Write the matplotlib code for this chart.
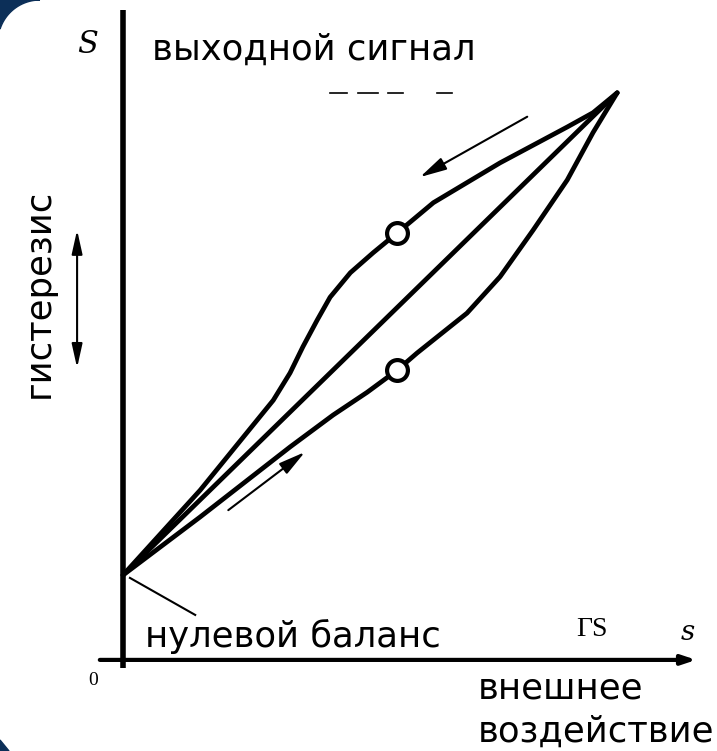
import numpy as np
import matplotlib.pyplot as plt
from matplotlib.patches import Polygon

# данные кривых (x - внешнее воздействие, y - выходной сигнал), нормированы на rS
zero_balance = 0.153

upper_x = [0.0, 0.156, 0.304, 0.338, 0.364, 0.393, 0.419, 0.460,
           0.506, 0.555, 0.628, 0.763, 0.899, 0.951, 1.0]
upper_y = [zero_balance, 0.302, 0.460, 0.508, 0.554, 0.601, 0.641, 0.684,
           0.719, 0.754, 0.807, 0.877, 0.940, 0.965, 1.0]

lower_x = [0.0, 0.156, 0.338, 0.425, 0.494, 0.555, 0.595, 0.696, 0.763, 0.830,
           0.899, 0.951, 1.0]
lower_y = [zero_balance, 0.255, 0.378, 0.434, 0.474, 0.513, 0.543, 0.613, 0.677, 0.759,
           0.847, 0.930, 1.0]

middle_x = [0.0, 1.0]
middle_y = [zero_balance, 1.0]

# точки-кружки на кривых
marker_x = [0.555, 0.555]
marker_y = [0.754, 0.513]

# штрихи вверху (начало, конец)
dash_start = [0.419, 0.476, 0.536, 0.636]
dash_end = [0.453, 0.516, 0.567, 0.666]
dash_level = 1.0

W, H = 717, 751
fig = plt.figure(figsize=(W / 100, H / 100), dpi=100)
ax = fig.add_axes([0, 0, 1, 1])
ax.set_xlim(-0.249, 1.202)
ax.set_ylim(-0.156, 1.163)
ax.axis('off')

# оси
ax.plot([0, 0], [-0.011, 1.146], color='black', lw=4, solid_capstyle='butt')
ax.annotate('', xy=(1.16, 0.004), xytext=(-0.047, 0.004),
            arrowprops=dict(arrowstyle='-|>,head_length=0.6,head_width=0.2',
                            lw=3, color='black', mutation_scale=14,
                            shrinkA=0, shrinkB=0))

# кривые гистерезиса
for xs, ys in [(upper_x, upper_y), (lower_x, lower_y), (middle_x, middle_y)]:
    ax.plot(xs, ys, color='black', lw=3.4, solid_capstyle='round',
            solid_joinstyle='round')
ax.plot(marker_x, marker_y, 'o', ms=15, mfc='white', mec='black', mew=3, zorder=5)

# стрелки направления
arrow = dict(arrowstyle='-|>,head_length=0.9,head_width=0.22', lw=1.5,
             color='black', mutation_scale=18, shrinkA=0, shrinkB=0)
ax.annotate('', xy=(0.601, 0.852), xytext=(0.818, 0.958), arrowprops=arrow)
ax.annotate('', xy=(0.368, 0.369), xytext=(0.213, 0.267), arrowprops=arrow)
ax.annotate('', xy=(-0.093, 0.517), xytext=(-0.093, 0.759),
            arrowprops=dict(arrowstyle='<|-|>,head_length=0.9,head_width=0.2',
                            lw=1.5, color='black', mutation_scale=16,
                            shrinkA=0, shrinkB=0))

# выноска нулевого баланса
ax.plot([0.014, 0.146], [0.148, 0.083], color='black', lw=1.5)

for a, b in zip(dash_start, dash_end):
    ax.plot([a, b], [dash_level, dash_level], color='black', lw=1.2)

# подписи
sans = 'DejaVu Sans'
fs = 25.5
ax.text(0.059, 1.058, 'выходной сигнал', fontsize=fs, family=sans, va='baseline')
ax.text(-0.170, 0.647, 'гистерезис', fontsize=fs, family=sans, rotation=90,
        ha='center', va='center')
ax.text(0.045, 0.026, 'нулевой баланс', fontsize=fs, family=sans, va='baseline')
ax.text(0.717, -0.063, 'внешнее', fontsize=fs, family=sans, va='baseline')
ax.text(0.717, -0.140, 'воздействие', fontsize=fs, family=sans, va='baseline')
ax.text(-0.071, 1.084, 'S', fontsize=22, family='DejaVu Serif', style='italic',
        ha='center', va='center')
ax.text(1.142, 0.053, 's', fontsize=20, family='DejaVu Serif', style='italic',
        ha='center', va='center')
ax.text(0.949, 0.058, 'ГS', fontsize=20, family='Liberation Serif',
        ha='center', va='center')
ax.text(-0.061, -0.032, '0', fontsize=14, family='Liberation Serif',
        ha='center', va='center')

# тёмно-синие уголки фона слайда
t = np.linspace(np.pi, 1.5 * np.pi, 30)
arc = np.column_stack([40 + 42 * np.cos(t), 42 + 42 * np.sin(t)])
arc = arc[(arc[:, 0] >= 0) & (arc[:, 1] >= 0)]
corner = np.vstack([[[0, 0]], [[0, arc[0, 1]]], arc, [[arc[-1, 0], 0]]])
fig.add_artist(Polygon(np.column_stack([corner[:, 0] / W, 1 - corner[:, 1] / H]),
                       closed=True, color='#0c2f58', transform=fig.transFigure))
bl = np.array([[0, 740], [9, 751], [0, 751]])
fig.add_artist(Polygon(np.column_stack([bl[:, 0] / W, 1 - bl[:, 1] / H]),
                       closed=True, color='#0c2f58', transform=fig.transFigure))

fig.savefig('out.png', dpi=100)
